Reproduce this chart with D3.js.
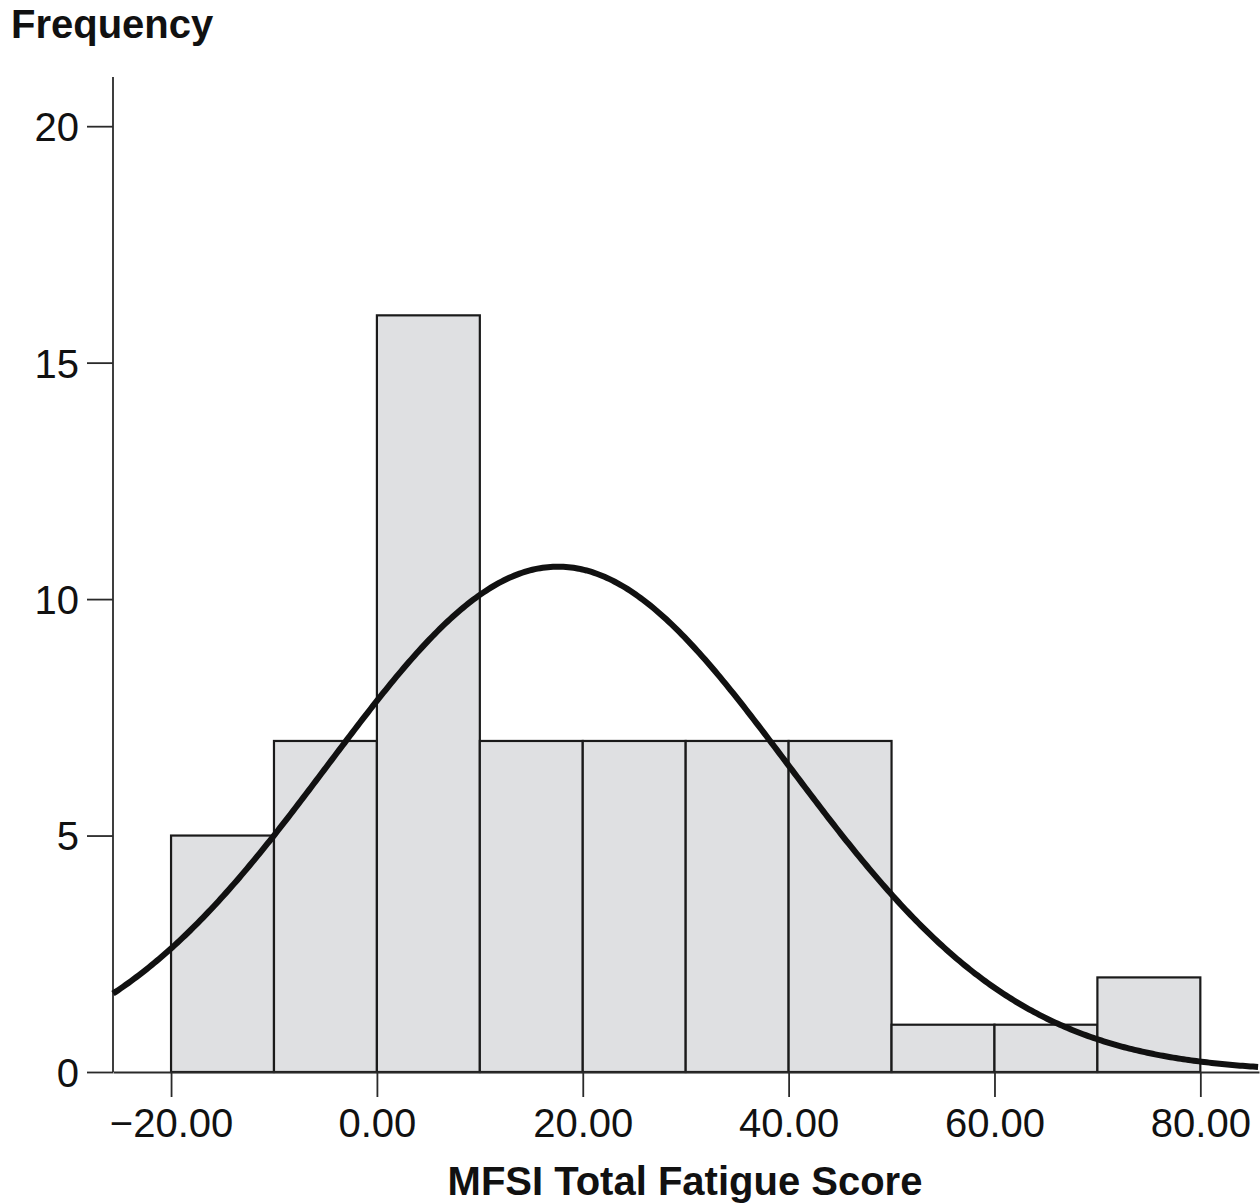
<!DOCTYPE html>
<html lang="en">
<head>
<meta charset="UTF-8">
<title>MFSI Total Fatigue Score histogram</title>
<script src="https://d3js.org/d3.v7.min.js"></script>
<style>
  body { margin: 0; background: #fff; }
  svg { display: block; font-family: "Liberation Sans", Arial, sans-serif; }
</style>
</head>
<body>
<div id="chart"></div>
<script>
// histogram bins (lower edge) and their counts
const binStarts = [-20, -10, 0, 10, 20, 30, 40, 50, 60, 70];
const binWidth = 10;
const counts = [5, 7, 16, 7, 7, 7, 7, 1, 1, 2];

const xTicks = [-20, 0, 20, 40, 60, 80];
const yTicks = [0, 5, 10, 15, 20];

// fitted normal curve
const fitMean = 17.6;
const fitSd = 22.4;

const W = 1260, H = 1204;

const svg = d3.select("#chart")
    .append("svg")
    .attr("width", W)
    .attr("height", H);

const x = d3.scaleLinear()
    .domain([-25.64, 85.7])
    .range([113, 1259]);

const y = d3.scaleLinear()
    .domain([0, 21.04])
    .range([1072, 77]);

// bars
const bins = binStarts.map((b, i) => ({ x0: b, x1: b + binWidth, n: counts[i] }));

svg.append("g")
    .selectAll("rect")
    .data(bins)
    .enter()
    .append("rect")
    .attr("x", d => x(d.x0))
    .attr("y", d => y(d.n))
    .attr("width", d => x(d.x1) - x(d.x0))
    .attr("height", d => y(0) - y(d.n))
    .attr("fill", "#dfe0e2")
    .attr("stroke", "#1a1a1a")
    .attr("stroke-width", 2.2);

// axes
const yAxis = d3.axisLeft(y)
    .tickValues(yTicks)
    .tickSize(26)
    .tickPadding(8)
    .tickFormat(d3.format("d"));

const gy = svg.append("g")
    .attr("transform", "translate(" + x.range()[0] + ",0)")
    .call(yAxis);

const xAxis = d3.axisBottom(x)
    .tickValues(xTicks)
    .tickSize(25)
    .tickSizeOuter(0)
    .tickPadding(12)
    .tickFormat(d3.format(".2f"));

const gx = svg.append("g")
    .attr("transform", "translate(0," + y(0) + ")")
    .call(xAxis);

[gx, gy].forEach(g => {
    g.select(".domain").attr("stroke", "#2a2a2a").attr("stroke-width", 1.8);
    g.selectAll(".tick line").attr("stroke", "#2a2a2a").attr("stroke-width", 1.8);
    g.selectAll(".tick text")
        .attr("fill", "#111")
        .style("font-size", "40px")
        .style("font-family", "'Liberation Sans', Arial, sans-serif");
});
gy.select(".domain").attr("d", "M0," + y.range()[1] + "V" + y.range()[0]);
gy.selectAll(".tick text").attr("dy", "0.36em");

// normal curve
const total = d3.sum(counts);
const normal = v => total * binWidth / (fitSd * Math.sqrt(2 * Math.PI)) *
    Math.exp(-0.5 * Math.pow((v - fitMean) / fitSd, 2));

const curvePts = d3.range(x.domain()[0], x.domain()[1] + 0.01, 0.25).map(v => [v, normal(v)]);

svg.append("path")
    .datum(curvePts)
    .attr("fill", "none")
    .attr("stroke", "#111")
    .attr("stroke-width", 6)
    .attr("d", d3.line().x(d => x(d[0])).y(d => y(d[1])));

// labels
svg.append("text")
    .attr("x", 11)
    .attr("y", 38)
    .attr("font-size", 40)
    .attr("font-weight", "bold")
    .attr("fill", "#111")
    .text("Frequency");

svg.append("text")
    .attr("x", 685)
    .attr("y", 1195)
    .attr("text-anchor", "middle")
    .attr("font-size", 40)
    .attr("font-weight", "bold")
    .attr("fill", "#111")
    .text("MFSI Total Fatigue Score");
</script>
</body>
</html>
